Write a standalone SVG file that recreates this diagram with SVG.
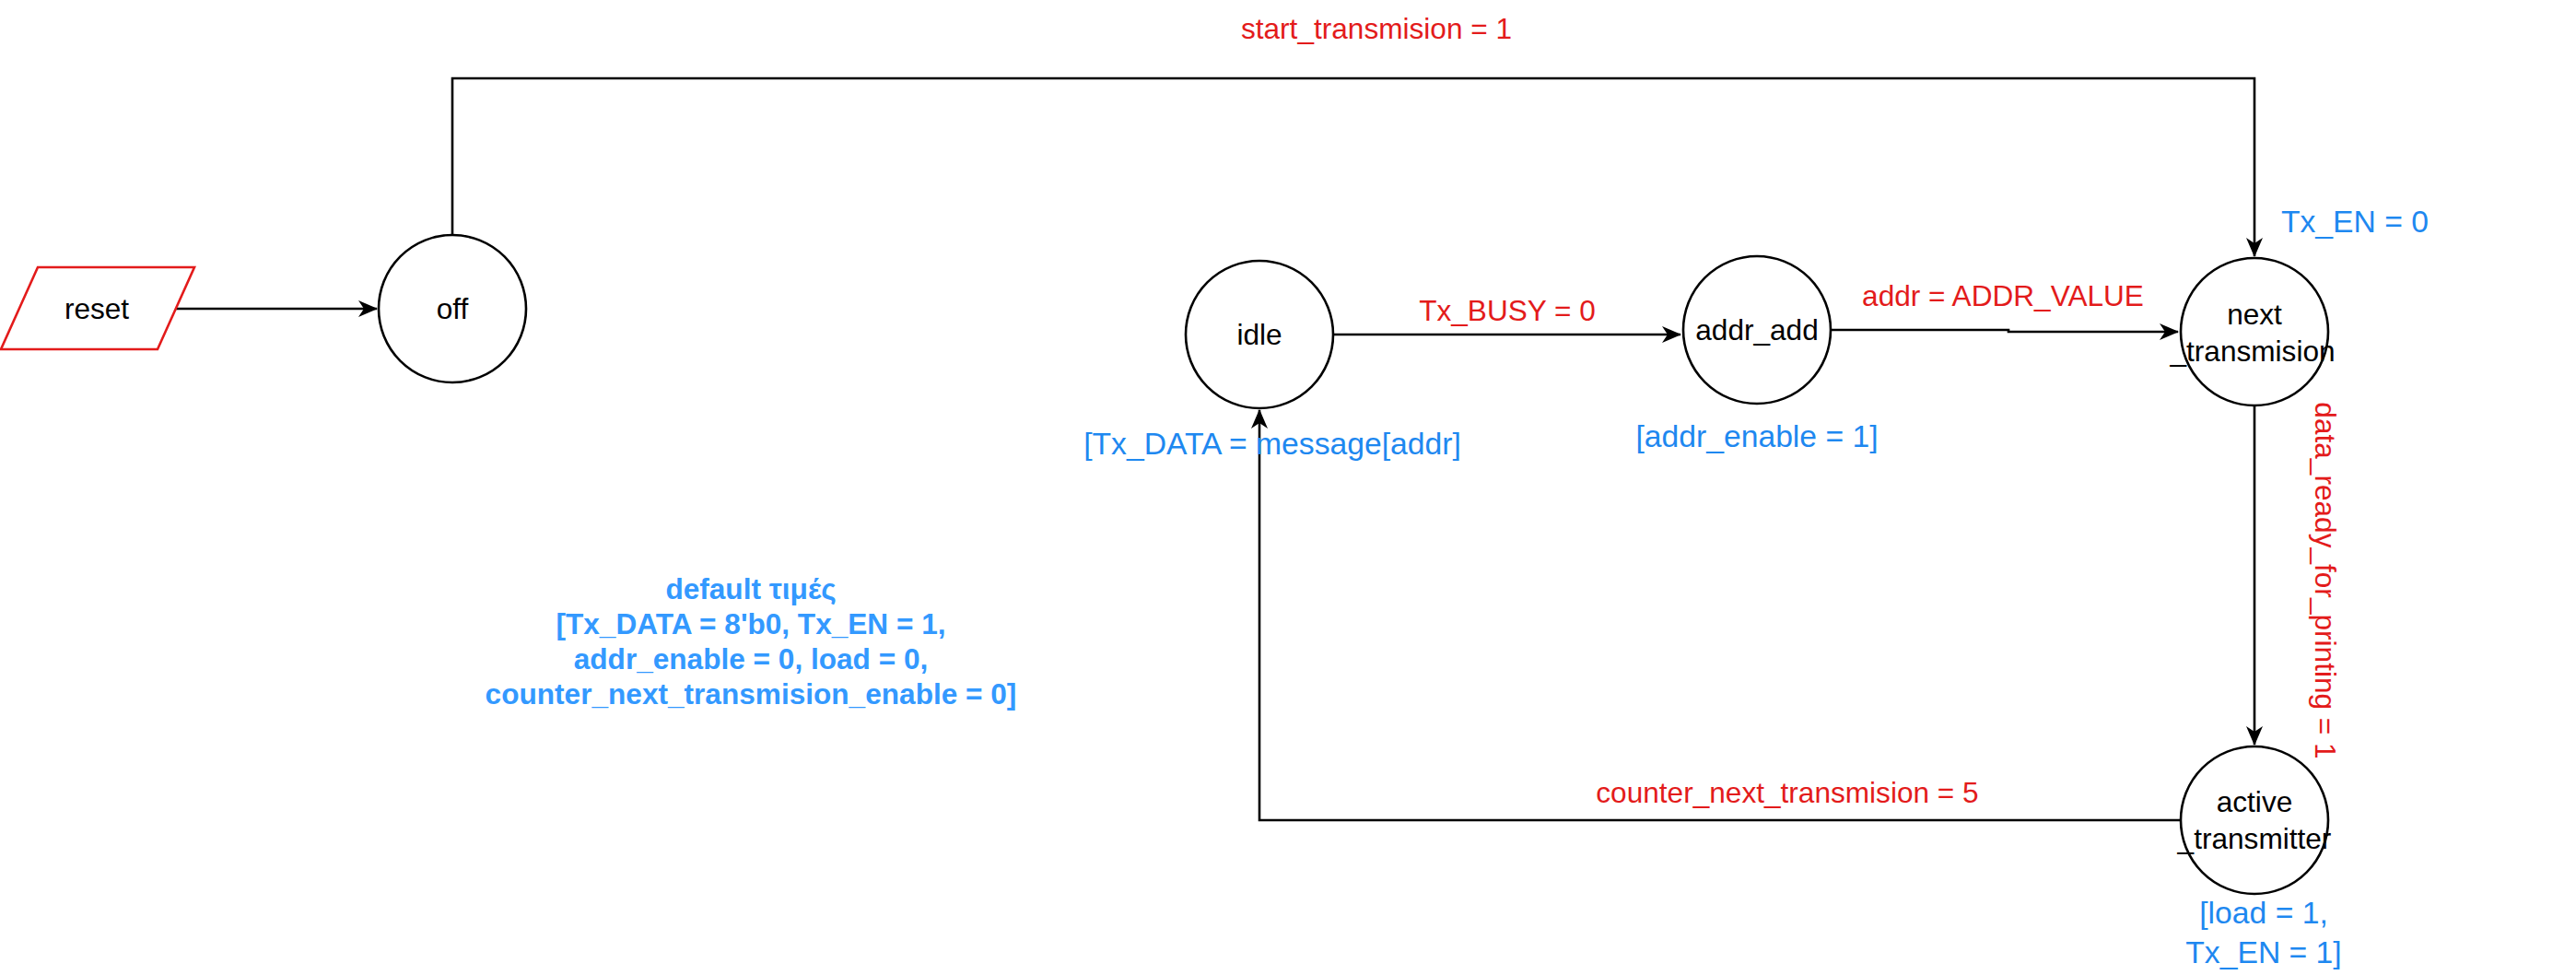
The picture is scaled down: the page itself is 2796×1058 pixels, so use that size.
<svg xmlns="http://www.w3.org/2000/svg" width="2796" height="1058" viewBox="0 0 2796 1058">
<defs>
<style>
.node{fill:#fff;stroke:#000;stroke-width:2.6}
.edge{fill:none;stroke:#000;stroke-width:2.6}
.t{font-family:"Liberation Sans",Arial,sans-serif;font-size:31.6px;text-anchor:middle}
.k{fill:#000}
.r{fill:#E31B1B}
.b{fill:#1E88F0;font-size:33.7px}
.d{fill:#3399FF;font-weight:bold}
</style>
<marker id="arr" markerUnits="userSpaceOnUse" markerWidth="22" markerHeight="20" viewBox="0 0 22 20" refX="20" refY="10" orient="auto">
<path d="M0,1 L21,10 L0,19 L6,10 Z" fill="#000"/>
</marker>
</defs>
<rect width="2796" height="1058" fill="#fff"/>
<g id="connectors">
<path class="edge" d="M191,335 H409" marker-end="url(#arr)"/>
<path class="edge" d="M491,255 V85 H2447 V278" marker-end="url(#arr)"/>
<path class="edge" d="M1447,363 H1824" marker-end="url(#arr)"/>
<path class="edge" d="M1987,358 H2180 V360 H2364" marker-end="url(#arr)"/>
<path class="edge" d="M2447,440 V808" marker-end="url(#arr)"/>
<path class="edge" d="M2366,890 H1367 V445" marker-end="url(#arr)"/>
</g>
<g id="labels">
<text class="t r" x="1494" y="42">start_transmision = 1</text>
<text class="t b" x="2556" y="252">Tx_EN = 0</text>
<text class="t r" x="1636" y="348">Tx_BUSY = 0</text>
<text class="t r" x="2174" y="332">addr = ADDR_VALUE</text>
<text class="t b" x="1907" y="485">[addr_enable = 1]</text>
<text class="t b" x="1381" y="493">[Tx_DATA = message[addr]</text>
<text class="t r" transform="translate(2513,630) rotate(90)" x="0" y="0">data_ready_for_printing = 1</text>
<text class="t r" x="1940" y="871">counter_next_transmision = 5</text>
<text class="t b" x="2457" y="1002">[load = 1,</text>
<text class="t b" x="2457" y="1045">Tx_EN = 1]</text>
<text class="t d" x="815" y="650">default τιμές</text>
<text class="t d" x="815" y="688">[Tx_DATA = 8'b0, Tx_EN = 1,</text>
<text class="t d" x="815" y="726">addr_enable = 0, load = 0,</text>
<text class="t d" x="815" y="764">counter_next_transmision_enable = 0]</text>
</g>
<g id="reset">
<polygon points="41,290 211,290 171,379 1,379" fill="#fff" stroke="#E31B1B" stroke-width="2.6"/>
<text class="t k" x="105" y="346">reset</text>
</g>
<g id="off">
<circle class="node" cx="491" cy="335" r="80"/>
<text class="t k" x="491" y="346">off</text>
</g>
<g id="idle">
<circle class="node" cx="1367" cy="363" r="80"/>
<text class="t k" x="1367" y="374">idle</text>
</g>
<g id="addr_add">
<circle class="node" cx="1907" cy="358" r="80"/>
<text class="t k" x="1907" y="369">addr_add</text>
</g>
<g id="next_transmision">
<circle class="node" cx="2447" cy="360" r="80"/>
<text class="t k" x="2447" y="352">next</text>
<text class="t k" x="2445" y="392">_transmision</text>
</g>
<g id="active_transmitter">
<circle class="node" cx="2447" cy="890" r="80"/>
<text class="t k" x="2447" y="881">active</text>
<text class="t k" x="2447" y="921">_transmitter</text>
</g>
</svg>
